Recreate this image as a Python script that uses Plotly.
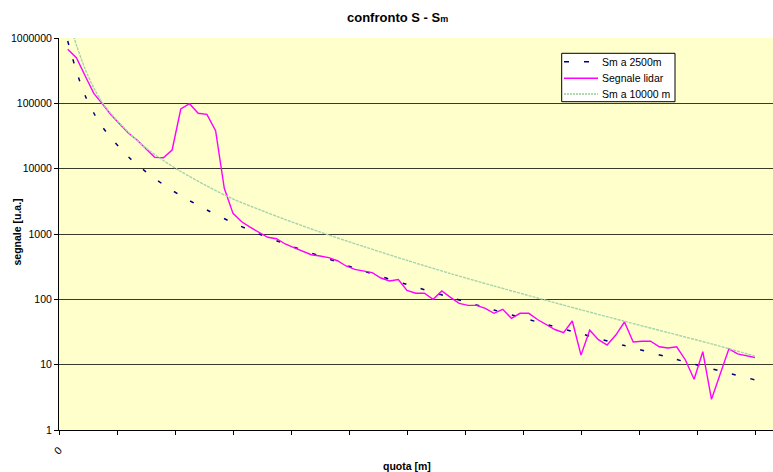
import plotly.graph_objects as go

# Altitude bins (m) of the lidar profile
quota = list(range(125, 10001, 125))

# Measured lidar signal (arbitrary units), one value per bin
segnale_lidar = [
    670000, 500000, 265000, 142000, 97700, 66300, 47800, 34800, 27200, 20500,
    14900, 14700, 19300, 81900, 98700, 70400, 67900, 38100, 5000, 2070,
    1540, 1260, 1060, 890, 847, 703, 617, 549, 482, 460,
    434, 390, 324, 288, 274, 256, 212, 191, 201, 137,
    124, 124, 100, 134, 107, 86.9, 80.9, 80.9, 72.9, 61.1,
    70.3, 51.2, 61.1, 61.1, 49.1, 41.2, 34.5, 31.0, 46.6, 14.0,
    33.7, 24.1, 20.0, 28.4, 45.0, 22.2, 22.8, 22.8, 18.8, 18.0,
    18.8, 11.8, 5.97, 15.8, 2.95, 7.2, 17.5, 14.6, 13.9, 12.9,
]

# Molecular signal profiles, sampled on a subset of bins
quota_sm = [125, 250, 375, 500, 625, 750, 1000, 1250, 1500, 1750, 2125, 2500, 2875,
            3250, 3750, 4375, 5000, 5625, 6250, 6875, 7500, 8125, 8750, 9375, 10000]
sm_2500 = [900000, 312000, 131800, 71100, 43400, 29250, 15080, 8950, 5700, 3855,
           2330, 1483, 1000, 703, 460, 271, 169, 107, 68.7, 45.0, 29.7, 19.6, 13.0,
           8.67, 5.86]
sm_10000 = [2100000, 781000, 335000, 171800, 101200, 68700, 35770, 20700, 13330, 9050,
            5430, 3433, 2371, 1667, 1072, 644, 395, 248, 160, 104.8, 69.1, 46.1, 31.0,
            20.8, 13.5]

y_ticks = [1, 10, 100, 1000, 10000, 100000, 1000000]
x_ticks = [i * 10000 / 12 for i in range(13)]
x_labels = ["0"] + [""] * 12

FONT = "Liberation Sans, Arial, sans-serif"
W, H = 773, 472
L, T, B = 59, 38, 42
PW, PH = W - L, H - T - B
X_MAX = PW / 8.7 * 125


def px(xp):
    return (xp - L) / PW


def py(yp):
    return (H - B - yp) / PH


fig = go.Figure()
fig.add_trace(go.Scatter(
    x=quota_sm, y=sm_2500, mode="lines", name="Sm a 2500m",
    line=dict(color="#000080", width=1.5, dash="4px,15px", shape="spline", smoothing=0.8),
))
fig.add_trace(go.Scatter(
    x=quota, y=segnale_lidar, mode="lines", name="Segnale lidar",
    line=dict(color="#FF00FF", width=1.4),
))
fig.add_trace(go.Scatter(
    x=quota_sm, y=sm_10000, mode="lines", name="Sm a 10000 m",
    line=dict(color="#A6D4AE", width=1.4, dash="3px,1px", shape="spline", smoothing=0.8),
))

fig.update_layout(
    width=W, height=H,
    margin=dict(l=L, r=0, t=T, b=B, pad=0),
    paper_bgcolor="white",
    plot_bgcolor="#FFFFCC",
    showlegend=False,
    font=dict(family=FONT, size=10.5, color="black"),
)

fig.update_xaxes(
    range=[0, X_MAX], tickmode="array", tickvals=x_ticks, ticktext=x_labels,
    tickangle=-45, ticks="outside", ticklen=4, tickcolor="black",
    ticklabelstandoff=5,
    showline=True, linecolor="black", linewidth=1,
    showgrid=False, zeroline=False,
    tickfont=dict(family=FONT, size=10.5),
)
fig.update_yaxes(
    type="log", range=[0, 6], tickmode="array", tickvals=y_ticks,
    ticktext=[str(v) for v in y_ticks],
    ticks="outside", ticklen=4, tickcolor="black",
    showline=True, linecolor="black", linewidth=1,
    showgrid=True, gridcolor="#3a3a2a", gridwidth=1,
    zeroline=False, tickfont=dict(family=FONT, size=10.5),
)

annotations = [
    dict(text="<b>confronto S - S<span style='font-size:9px'>m</span></b>",
         x=px(397.5), y=py(17.5), xanchor="center", yanchor="middle",
         font=dict(size=13)),
    dict(text="<b>segnale [u.a.]</b>", x=px(16.5), y=py(232), textangle=-90,
         xanchor="center", yanchor="middle", font=dict(size=10.5)),
    dict(text="<b>quota [m]</b>", x=px(407), y=py(466),
         xanchor="center", yanchor="middle", font=dict(size=10.5)),
]

# Legend box drawn in the upper right corner of the plot area
legend_rows = [
    ("Sm a 2500m", 61.7, dict(color="#000080", width=1.5, dash="5px,15px")),
    ("Segnale lidar", 78.3, dict(color="#FF00FF", width=1.4)),
    ("Sm a 10000 m", 94.0, dict(color="#99CC99", width=1.5, dash="2px,1px")),
]
shapes = [dict(type="rect", xref="paper", yref="paper",
               x0=px(561.7), x1=px(675), y0=py(101.7), y1=py(53.3),
               fillcolor="white", line=dict(color="black", width=1), layer="above")]
for label, yp, style in legend_rows:
    shapes.append(dict(type="line", xref="paper", yref="paper",
                       x0=px(564), x1=px(598), y0=py(yp), y1=py(yp),
                       line=style, layer="above"))
    annotations.append(dict(text=label, x=px(600), y=py(yp), xanchor="left",
                            yanchor="middle", font=dict(size=10.5)))

for a in annotations:
    a.update(xref="paper", yref="paper", showarrow=False)

fig.update_layout(annotations=annotations, shapes=shapes)

fig.write_html("out.html")
